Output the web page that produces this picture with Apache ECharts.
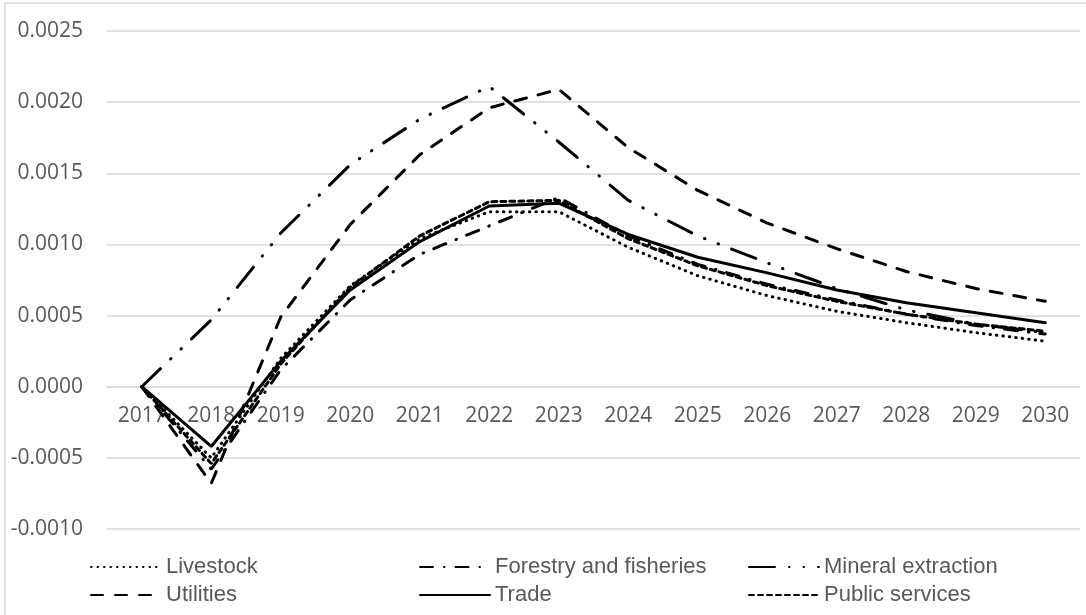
<!doctype html>
<html>
<head>
	<meta charset="utf-8">
	<title>Sector impacts 2017-2030</title>
	<script src="https://cdn.jsdelivr.net/npm/echarts@6.0.0/dist/echarts.min.js"></script>
	<style>
		html, body { margin: 0; padding: 0; background: #fff; }
		#chart { width: 1086px; height: 615px; }
	</style>
</head>
<body>
	<div id="chart"></div>
	<script>
		var years = ['2017', '2018', '2019', '2020', '2021', '2022', '2023', '2024', '2025', '2026', '2027', '2028', '2029', '2030'];
		var seriesNames = ['Livestock', 'Forestry and fisheries', 'Mineral extraction', 'Utilities', 'Trade', 'Public services'];

		var livestock = [0, -0.00050, 0.00020, 0.00071, 0.00104, 0.00123, 0.00123, 0.00098, 0.00078, 0.00064, 0.00053, 0.00045, 0.00038, 0.00032];
		var forestry = [0, -0.00058, 0.00012, 0.00061, 0.00093, 0.00113, 0.00133, 0.00106, 0.00086, 0.00072, 0.00061, 0.00051, 0.00043, 0.00037];
		var mineral = [0, 0.00047, 0.00108, 0.00156, 0.00188, 0.00211, 0.00172, 0.00131, 0.00106, 0.00087, 0.00069, 0.00054, 0.00044, 0.00038];
		var utilities = [0, -0.00068, 0.00049, 0.00114, 0.00163, 0.00196, 0.00209, 0.00168, 0.00138, 0.00115, 0.00097, 0.00081, 0.00069, 0.00060];
		var trade = [0, -0.00042, 0.00018, 0.00068, 0.00102, 0.00127, 0.00129, 0.00107, 0.00091, 0.00080, 0.00068, 0.00059, 0.00052, 0.00045];
		var publicServices = [0, -0.00054, 0.00016, 0.00070, 0.00106, 0.00130, 0.00131, 0.00104, 0.00085, 0.00071, 0.00060, 0.00051, 0.00044, 0.00039];

		var seriesData = [livestock, forestry, mineral, utilities, trade, publicServices];
		// dash patterns roughly like the excel styles
		var dashTypes = [[0.5, 6], [13, 11, 0.5, 11], [26, 14, 0.5, 14, 0.5, 14], [12, 12], 'solid', [5, 4]];
		var legendLeft = [90, 419, 748, 90, 419, 748];
		var legendTop = [556, 556, 556, 584, 584, 584];

		var chart = echarts.init(document.getElementById('chart'));

		var series = [];
		var legends = [];
		for (var i = 0; i < seriesNames.length; i++) {
			series.push({
				name: seriesNames[i],
				type: 'line',
				data: seriesData[i],
				symbol: 'none',
				animation: false,
				lineStyle: {
					color: '#000',
					width: 3,
					type: dashTypes[i],
					cap: 'round'
				}
			});
			legends.push({
				left: legendLeft[i],
				top: legendTop[i],
				data: [seriesNames[i]],
				itemWidth: 70,
				itemHeight: 14,
				itemGap: 0,
				padding: 0,
				selectedMode: false,
				itemStyle: { opacity: 0 },
				textStyle: {
					color: '#595959',
					fontSize: 22,
					fontFamily: 'Liberation Sans'
				}
			});
		}

		chart.setOption({
			backgroundColor: '#fff',
			animation: false,
			graphic: [{
				type: 'rect',
				shape: { x: 5, y: 3, width: 1090, height: 630 },
				style: { fill: 'none', stroke: '#d9d9d9', lineWidth: 1.5 },
				silent: true
			}],
			legend: legends,
			grid: {
				left: 107,
				right: 6,
				top: 31,
				bottom: 86
			},
			xAxis: {
				type: 'category',
				data: years,
				boundaryGap: true,
				// labels sit just under the zero line like the excel chart
				offset: -142,
				axisLine: { show: true, onZero: false, lineStyle: { color: '#d9d9d9', width: 1.5 } },
				axisTick: { show: false },
				axisLabel: {
					color: '#595959',
					fontSize: 21,
					fontFamily: 'Open Sans',
					margin: 19
				}
			},
			yAxis: {
				type: 'value',
				min: -0.001,
				max: 0.0025,
				interval: 0.0005,
				axisLine: { show: false },
				axisTick: { show: false },
				axisLabel: {
					color: '#595959',
					fontSize: 21,
					fontFamily: 'Open Sans',
					margin: 24,
					formatter: function(v) { return v.toFixed(4); }
				},
				splitLine: { lineStyle: { color: '#d9d9d9', width: 1.5 } }
			},
			series: series
		});
	</script>
</body>
</html>
